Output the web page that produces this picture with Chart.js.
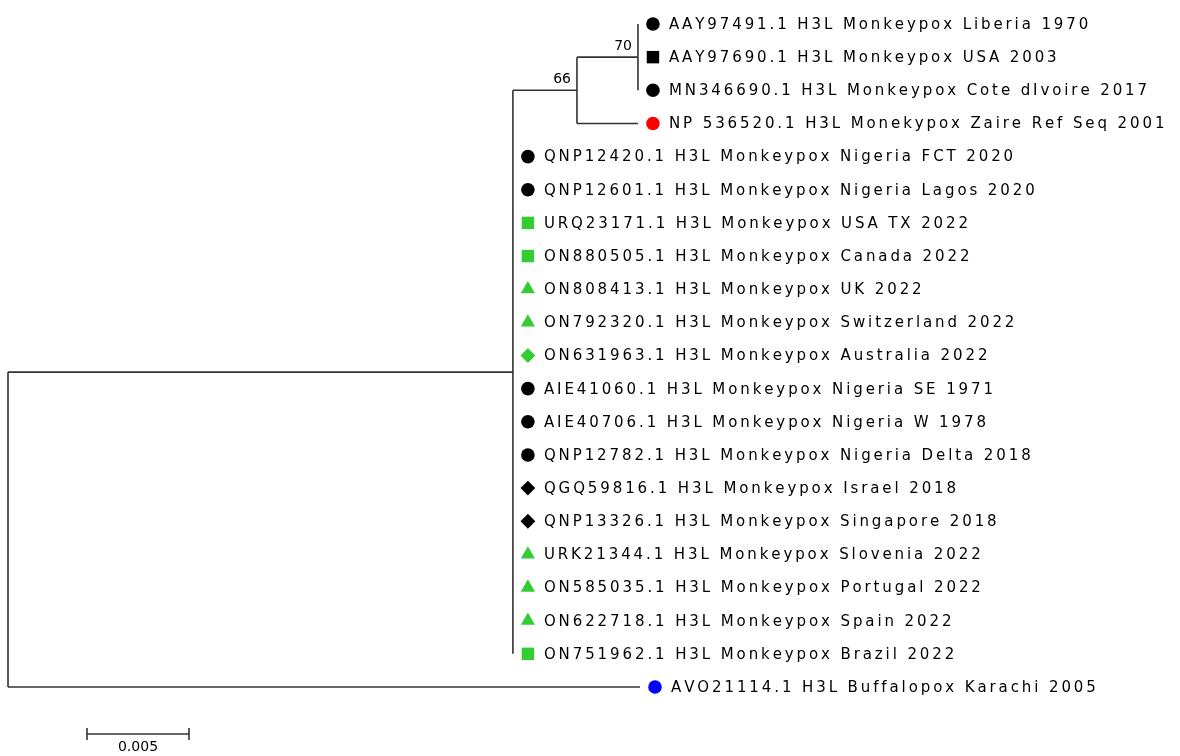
<!DOCTYPE html>
<html>
<head>
<meta charset="utf-8">
<script src="https://cdn.jsdelivr.net/npm/chart.js@4.4.0/dist/chart.umd.min.js"></script>
<style>
  html, body { margin: 0; padding: 0; background: #fff; }
  #wrap { width: 1180px; height: 756px; }
</style>
</head>
<body>
<div id="wrap"><canvas id="tree" width="1180" height="756"></canvas></div>
<script>
// taxa, top to bottom
const taxa = [
    'AAY97491.1 H3L Monkeypox Liberia 1970',
    'AAY97690.1 H3L Monkeypox USA 2003',
    'MN346690.1 H3L Monkeypox Cote dIvoire 2017',
    'NP 536520.1 H3L Monekypox Zaire Ref Seq 2001',
    'QNP12420.1 H3L Monkeypox Nigeria FCT 2020',
    'QNP12601.1 H3L Monkeypox Nigeria Lagos 2020',
    'URQ23171.1 H3L Monkeypox USA TX 2022',
    'ON880505.1 H3L Monkeypox Canada 2022',
    'ON808413.1 H3L Monkeypox UK 2022',
    'ON792320.1 H3L Monkeypox Switzerland 2022',
    'ON631963.1 H3L Monkeypox Australia 2022',
    'AIE41060.1 H3L Monkeypox Nigeria SE 1971',
    'AIE40706.1 H3L Monkeypox Nigeria W 1978',
    'QNP12782.1 H3L Monkeypox Nigeria Delta 2018',
    'QGQ59816.1 H3L Monkeypox Israel 2018',
    'QNP13326.1 H3L Monkeypox Singapore 2018',
    'URK21344.1 H3L Monkeypox Slovenia 2022',
    'ON585035.1 H3L Monkeypox Portugal 2022',
    'ON622718.1 H3L Monkeypox Spain 2022',
    'ON751962.1 H3L Monkeypox Brazil 2022',
    'AVO21114.1 H3L Buffalopox Karachi 2005'
];
const markerShapes = [
    'circle', 'rect', 'circle', 'circle', 'circle', 'circle', 'rect', 'rect', 'triangle', 'triangle',
    'rectRot', 'circle', 'circle', 'circle', 'rectRot', 'rectRot', 'triangle', 'triangle', 'triangle', 'rect',
    'circle'
];
const markerColors = [
    '#000000', '#000000', '#000000', '#ff0000', '#000000', '#000000', '#33cc33', '#33cc33', '#33cc33', '#33cc33',
    '#33cc33', '#000000', '#000000', '#000000', '#000000', '#000000', '#33cc33', '#33cc33', '#33cc33', '#33cc33',
    '#0000ff'
];
// topology + branch lengths; leaves are indexes into taxa, internal labels are bootstrap values
const newick = '((((0:0,1:0,2:0)70:0.00299,3:0.00299)66:0.00314,' +
    '4:0,5:0,6:0,7:0,8:0,9:0,10:0,11:0,12:0,13:0,14:0,15:0,16:0,17:0,18:0,19:0):0.02475,20:0.03098);';
const scaleBarLength = 0.005;
const scaleBarLabel = '0.005';

// layout (pixels)
const PX_PER_UNIT = 20400;
const ROOT_PX = 8;
const ROW_PX = 33.15;
const FIRST_ROW_PX = 24;
const SCALE_BAR_LEFT_PX = 87;
const SCALE_BAR_TOP_PX = 734;
const MARKER_GAP = 15;
const TEXT_GAP = 31;
const LINE_COLOR = '#333333';

function parseNewick(s) {
    let i = 0;
    function node() {
        const n = { children: [] };
        if (s[i] === '(') {
            i++;
            n.children.push(node());
            while (s[i] === ',') { i++; n.children.push(node()); }
            i++;
        }
        let lab = '';
        while (i < s.length && !':,);'.includes(s[i])) lab += s[i++];
        n.len = 0;
        if (s[i] === ':') {
            i++;
            let len = '';
            while (i < s.length && !',);'.includes(s[i])) len += s[i++];
            n.len = parseFloat(len);
        }
        if (n.children.length) n.support = lab ? lab : null;
        else n.leaf = parseInt(lab, 10);
        return n;
    }
    return node();
}

function layout(n, x) {
    n.x = x + n.len;
    if (n.children.length) {
        n.children.forEach(c => layout(c, n.x));
        n.y = (n.children[0].y + n.children[n.children.length - 1].y) / 2;
    } else {
        n.y = n.leaf;
    }
}

const root = parseNewick(newick);
root.len = 0;
layout(root, 0);

const segments = [];
const tips = [];
const supports = [];
(function walk(n) {
    if (!n.children.length) { tips.push(n); return; }
    const first = n.children[0], last = n.children[n.children.length - 1];
    segments.push([{ x: n.x, y: first.y }, { x: n.x, y: last.y }]);
    n.children.forEach(c => {
        segments.push([{ x: n.x, y: c.y }, { x: c.x, y: c.y }]);
        if (c.support) supports.push(c);
        walk(c);
    });
})(root);
tips.sort((a, b) => a.leaf - b.leaf);

const W = 1180, H = 756;
const xMin = -ROOT_PX / PX_PER_UNIT;
const xMax = xMin + W / PX_PER_UNIT;
const yMin = -FIRST_ROW_PX / ROW_PX;
const yMax = yMin + H / ROW_PX;
const scaleBarX = (SCALE_BAR_LEFT_PX - ROOT_PX) / PX_PER_UNIT;
const scaleBarY = (SCALE_BAR_TOP_PX - FIRST_ROW_PX) / ROW_PX;
const markerOffset = MARKER_GAP / PX_PER_UNIT;

const radiusFor = { circle: 6.8, rect: 8.8, triangle: 8.2, rectRot: 7.4 };

const datasets = segments.map(seg => ({
    type: 'line',
    data: seg,
    borderColor: LINE_COLOR,
    borderWidth: 1.6,
    pointRadius: 0,
    fill: false,
    tension: 0
}));

datasets.push({
    type: 'scatter',
    data: tips.map(t => ({ x: t.x + markerOffset, y: t.y })),
    pointStyle: tips.map(t => markerShapes[t.leaf]),
    pointRadius: tips.map(t => radiusFor[markerShapes[t.leaf]]),
    backgroundColor: tips.map(t => markerColors[t.leaf]),
    borderColor: tips.map(t => markerColors[t.leaf]),
    borderWidth: 0
});

datasets.push({
    type: 'line',
    data: [{ x: scaleBarX, y: scaleBarY }, { x: scaleBarX + scaleBarLength, y: scaleBarY }],
    borderColor: LINE_COLOR,
    borderWidth: 1.6,
    pointStyle: 'line',
    rotation: 90,
    pointRadius: 6,
    pointBorderWidth: 1.6,
    pointBorderColor: LINE_COLOR
});

function spacedText(ctx, text, x, y, spacing) {
    for (const ch of text) {
        ctx.fillText(ch, x, y);
        x += ctx.measureText(ch).width + spacing;
    }
}

const treeText = {
    id: 'treeText',
    afterDatasetsDraw(chart) {
        const { ctx, scales: { x, y } } = chart;
        ctx.save();
        ctx.fillStyle = '#000';
        ctx.textBaseline = 'middle';
        ctx.font = '15px "DejaVu Sans"';
        tips.forEach(t => {
            spacedText(ctx, taxa[t.leaf], x.getPixelForValue(t.x) + TEXT_GAP, y.getPixelForValue(t.y) + 1, 2.9);
        });
        ctx.font = '14px "DejaVu Sans"';
        ctx.textAlign = 'right';
        ctx.textBaseline = 'bottom';
        supports.forEach(n => {
            ctx.fillText(n.support, x.getPixelForValue(n.x) - 6, y.getPixelForValue(n.y) - 4);
        });
        ctx.textAlign = 'center';
        ctx.textBaseline = 'top';
        ctx.font = '14px "DejaVu Sans"';
        ctx.fillText(scaleBarLabel, x.getPixelForValue(scaleBarX + scaleBarLength / 2), y.getPixelForValue(scaleBarY) + 6);
        ctx.restore();
    }
};

new Chart(document.getElementById('tree'), {
    type: 'scatter',
    data: { datasets },
    options: {
        responsive: false,
        animation: false,
        events: [],
        layout: { padding: 0, autoPadding: false },
        plugins: { legend: { display: false }, tooltip: { enabled: false } },
        scales: {
            x: { type: 'linear', display: false, min: xMin, max: xMax },
            y: { type: 'linear', display: false, min: yMin, max: yMax, reverse: true }
        }
    },
    plugins: [treeText]
});
</script>
</body>
</html>
